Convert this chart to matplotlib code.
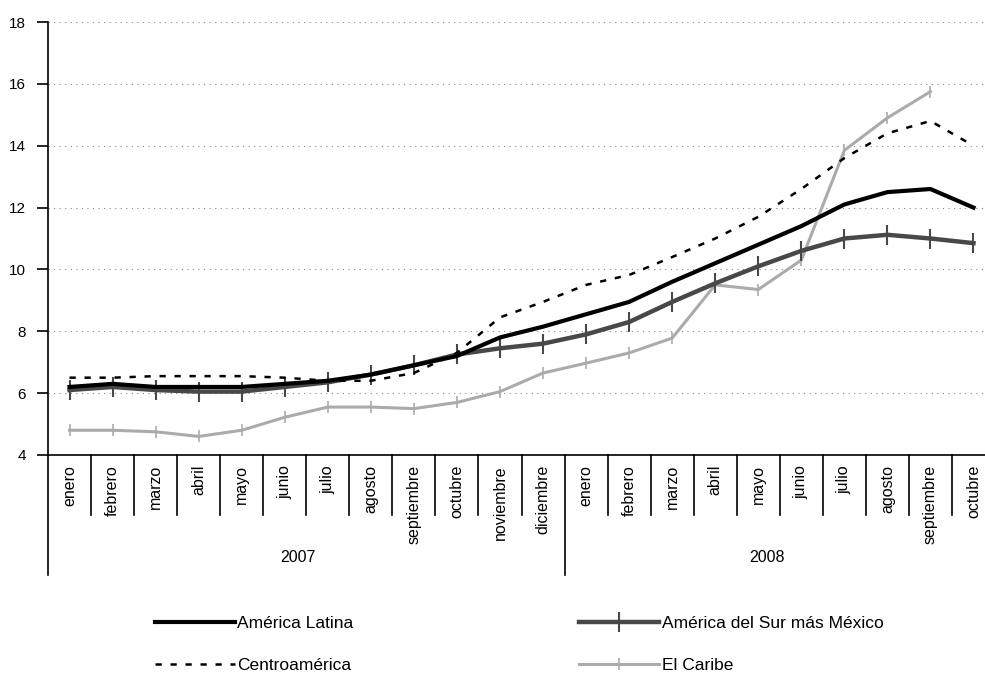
import numpy as np
import matplotlib
matplotlib.use("Agg")
import matplotlib.pyplot as plt

plt.rcParams['font.family'] = ['Liberation Sans', 'DejaVu Sans']

# meses: enero 2007 .. octubre 2008
months = ["enero", "febrero", "marzo", "abril", "mayo", "junio", "julio",
          "agosto", "septiembre", "octubre", "noviembre", "diciembre",
          "enero", "febrero", "marzo", "abril", "mayo", "junio", "julio",
          "agosto", "septiembre", "octubre"]
years = ["2007", "2008"]
year_start = [0, 12]

america_latina = [6.2, 6.3, 6.2, 6.2, 6.2, 6.3, 6.4, 6.6, 6.9, 7.2, 7.8, 8.15,
                  8.55, 8.95, 9.6, 10.2, 10.8, 11.4, 12.1, 12.5, 12.6, 12.0]
sur_mexico = [6.1, 6.2, 6.1, 6.05, 6.05, 6.2, 6.35, 6.6, 6.9, 7.25, 7.45, 7.6,
              7.9, 8.3, 8.95, 9.55, 10.1, 10.6, 11.0, 11.12, 11.0, 10.85]
centroamerica = [6.5, 6.5, 6.55, 6.55, 6.55, 6.5, 6.4, 6.4, 6.65, 7.3, 8.45, 8.95,
                 9.5, 9.82, 10.4, 11.0, 11.7, 12.6, 13.6, 14.4, 14.8, 14.0]
caribe = [4.8, 4.8, 4.75, 4.6, 4.8, 5.22, 5.55, 5.55, 5.5, 5.7, 6.05, 6.65,
          6.97, 7.3, 7.78, 9.5, 9.35, 10.3, 13.85, 14.9, 15.75, np.nan]

W, H = 985, 673
fig = plt.figure(figsize=(W / 100, H / 100), dpi=100)
ax = fig.add_axes([48 / W, 1 - 455 / H, 947 / W, 433 / H])

x = np.arange(len(months))

ax.plot(x, caribe, color="#ababab", lw=2.2, marker="|", ms=9, mew=1.2,
        label="El Caribe", zorder=3)
ax.plot(x, sur_mexico, color="#484848", lw=3.2, marker="|", ms=15, mew=1.5,
        label="América del Sur más México", zorder=4)
ax.plot(x, centroamerica, color="black", lw=1.8, ls=(0, (2.5, 3.5)),
        label="Centroamérica", zorder=5)
ax.plot(x, america_latina, color="black", lw=3.0, label="América Latina", zorder=6)

ax.set_xlim(-0.5, len(months) - 0.5)
ax.set_ylim(4, 18)
ax.set_yticks(np.arange(4, 19, 2))
ax.tick_params(axis="y", length=8, width=1.2, pad=8, labelsize=11)
ax.set_xticks([])
ax.yaxis.grid(True, color="#888888", ls=(0, (1, 4)), lw=0.8)
ax.set_axisbelow(True)

for s in ["top", "right"]:
    ax.spines[s].set_visible(False)
ax.spines["left"].set_linewidth(1.2)
ax.spines["bottom"].set_linewidth(1.2)

# eje de categorias en dos niveles
trans = ax.get_xaxis_transform()
for i in range(len(months) + 1):
    xs = i - 0.5
    bottom = -0.277 if (i in year_start or i == len(months)) else -0.1386
    ax.plot([xs, xs], [0, bottom], color="black", lw=1.2, transform=trans,
            clip_on=False)
for i, m in enumerate(months):
    ax.text(i, -0.023, m, rotation=90, ha="center", va="top", fontsize=11.5,
            transform=trans)
year_x = [5.3, 16.2]
for yx, yl in zip(year_x, years):
    ax.text(yx, -0.2356, yl, ha="center", va="center", fontsize=11.5,
            transform=trans)

handles, labels = ax.get_legend_handles_labels()
order = [3, 2, 1, 0]
fig.legend([handles[i] for i in order], [labels[i] for i in order],
           loc="upper left", bbox_to_anchor=(155 / W, 1 - 616 / H), ncol=2,
           frameon=False, fontsize=12.5, handlelength=4.6, handletextpad=0.15,
           columnspacing=13.0, labelspacing=1.52, borderpad=0, borderaxespad=0)

fig.savefig("out.png", dpi=100)
